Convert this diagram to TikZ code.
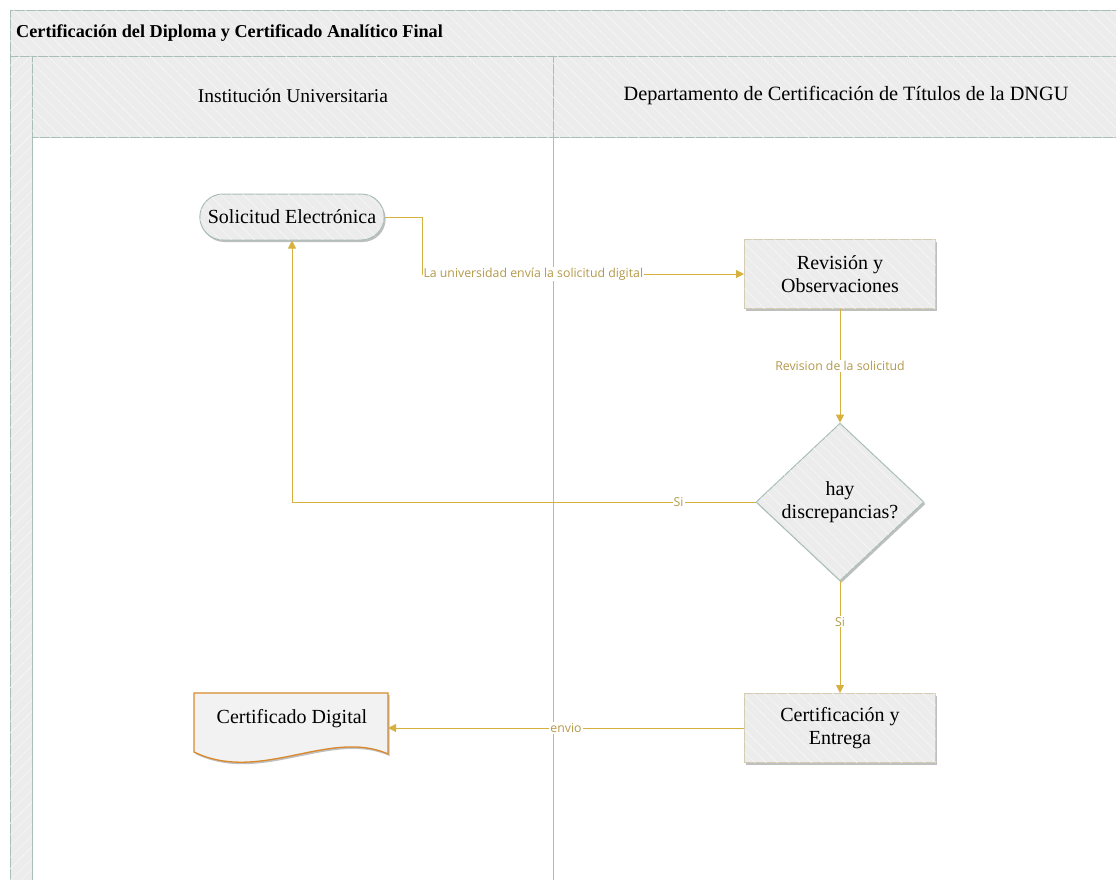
\documentclass[tikz,border=0pt]{standalone}
\usepackage{fontspec}
\setmainfont{Liberation Serif}
\newfontfamily\labfont{Open Sans}
\usetikzlibrary{arrows.meta,shapes.geometric,shapes.misc,shadows,patterns.meta}
\definecolor{lanebd}{HTML}{A9BEB9}
\definecolor{hdrfill}{HTML}{ECECEC}
\definecolor{goldline}{HTML}{D6B13F}
\definecolor{goldtext}{HTML}{B39A4A}
\definecolor{orangebd}{HTML}{D9892B}
\definecolor{beigebd}{HTML}{D3CCB2}
\tikzset{
  hatchNW/.style={postaction={pattern={Lines[angle=-45,distance=8pt,line width=0.4pt]},pattern color=white!70!hdrfill}},
  hatchNE/.style={postaction={pattern={Lines[angle=45,distance=8pt,line width=0.4pt]},pattern color=white!70!hdrfill}},
  lanebox/.style={draw=lanebd,line width=1pt,fill=hdrfill},
  shad/.style={drop shadow={shadow xshift=1.5pt,shadow yshift=-2pt,opacity=0.25,fill=black}},
  proc/.style={rectangle,draw=beigebd,line width=1pt,fill=hdrfill,minimum width=191pt,minimum height=69pt,align=center,font=\fontsize{20}{23}\selectfont,shad,hatchNW},
  term/.style={rounded rectangle,draw=lanebd,line width=1pt,fill=hdrfill,minimum width=191pt,minimum height=46pt,font=\fontsize{20}{23}\selectfont,shad,hatchNW},
  decis/.style={diamond,draw=lanebd,line width=1pt,fill=hdrfill,inner sep=0pt,minimum width=168pt,minimum height=154pt,align=center,font=\fontsize{20}{23}\selectfont,shad,hatchNW},
  conn/.style={draw=goldline,line width=1pt,-{Triangle[length=8pt,width=8pt]}},
  plain/.style={draw=goldline,line width=1pt},
  lab/.style={fill=white,inner sep=1pt,text=goldtext,font=\labfont\fontsize{12.3}{14}\selectfont}
}
\begin{document}
\begin{tikzpicture}[x=1pt,y=-1pt]
\useasboundingbox (0,0) rectangle (1116,879);
% pool
\path[lanebox,hatchNW] (10,10) rectangle (1130,56);
\node[anchor=west,font=\bfseries\fontsize{18.2}{21}\selectfont,inner sep=0pt] (title) at (16,33) {Certificación del Diploma y Certificado Analítico Final};
\path[lanebox,hatchNE] (10,56) rectangle (32,890);
\path[lanebox,hatchNW] (32,56) rectangle (553,137);
\path[lanebox,hatchNW] (553,56) rectangle (1130,137);
\node[font=\fontsize{19.5}{23}\selectfont] (lane1) at (293,96) {Institución Universitaria};
\node[font=\fontsize{20.3}{23}\selectfont] (lane2) at (846,96) {Departamento de Certificación de Títulos de la DNGU};
\draw[lanebd,line width=1pt] (32,137) -- (32,890);
\draw[lanebd,line width=1pt] (553,137) -- (553,890);
% nodes
\node[term] (sol) at (292,217) {Solicitud Electrónica};
\node[proc] (rev) at (840,274) {Revisión y\\Observaciones};
\node[decis] (dia) at (840,502) {hay\\discrepancias?};
\node[proc] (cert) at (840,728) {Certificación y\\Entrega};
% document shape
\coordinate (d1) at (194,693);
\coordinate (d2) at (388,693);
\coordinate (d3) at (388,754);
\coordinate (d4) at (194,752);
\path[draw=orangebd,line width=1.3pt,fill=hdrfill!70!white,drop shadow={shadow xshift=1.5pt,shadow yshift=-2pt,opacity=0.25,fill=black}]
  (d1) -- (d2) -- (d3) .. controls (330,728) and (260,784) .. (d4) -- cycle;
\node[font=\fontsize{20}{23}\selectfont] (doc) at (292,719) {Certificado Digital};
\coordinate (docE) at (388,728);
% connectors
\coordinate (c1) at (422,274);
\draw[plain] (sol.east) -| (c1);
\draw[conn] (c1) -- node[lab,pos=0,anchor=west] {La universidad envía la solicitud digital} (rev.west);
\draw[conn] (rev.south) -- node[lab] {Revision de la solicitud} (dia.north);
\draw[conn] (dia.west) -| node[lab,pos=0.083] {Si} (sol.south);
\draw[conn] (dia.south) -- node[lab,pos=0.36] {Si} (cert.north);
\draw[conn] (cert.west) -- node[lab] {envio} (docE);
\end{tikzpicture}
\end{document}
